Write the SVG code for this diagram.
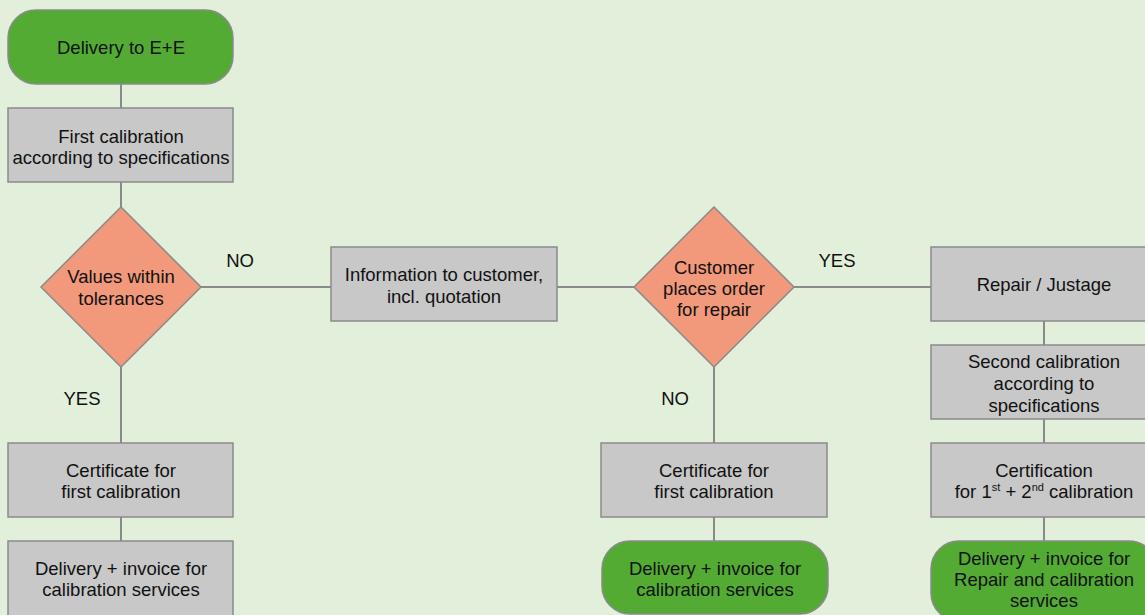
<svg xmlns="http://www.w3.org/2000/svg" width="1145" height="615" viewBox="0 0 1145 615">
<style>
.bg{fill:#e2efda}
.box{fill:#c8c8c8;stroke:#8a8a8a;stroke-width:1.5}
.term{fill:#53ab34;stroke:#8a8a8a;stroke-width:1.5}
.dec{fill:#f2987b;stroke:#8a8a8a;stroke-width:1.5}
.ln{stroke:#8a8a8a;stroke-width:2;fill:none}
text{font-family:"Liberation Sans",Arial,sans-serif;font-size:18.5px;fill:#111;text-anchor:middle}
.sup{font-size:11px}
</style>
<rect class="bg" x="0" y="0" width="1145" height="615"/>
<g id="connectors">
<line class="ln" x1="121" y1="84" x2="121" y2="108"/>
<line class="ln" x1="121" y1="182" x2="121" y2="207"/>
<line class="ln" x1="121" y1="367" x2="121" y2="443"/>
<line class="ln" x1="121" y1="517" x2="121" y2="541"/>
<line class="ln" x1="201" y1="287" x2="331" y2="287"/>
<line class="ln" x1="557" y1="287" x2="634" y2="287"/>
<line class="ln" x1="794" y1="287" x2="931" y2="287"/>
<line class="ln" x1="714" y1="367" x2="714" y2="443"/>
<line class="ln" x1="714" y1="517" x2="714" y2="541"/>
<line class="ln" x1="1044" y1="321" x2="1044" y2="345"/>
<line class="ln" x1="1044" y1="419" x2="1044" y2="443"/>
<line class="ln" x1="1044" y1="517" x2="1044" y2="541"/>
<text x="240" y="267">NO</text>
<text x="82" y="405">YES</text>
<text x="837" y="267">YES</text>
<text x="675" y="405">NO</text>
</g>
<g id="n1"><rect class="term" x="8" y="10" width="225" height="74" rx="28"/><text x="121" y="54">Delivery to E+E</text></g>
<g id="n2"><rect class="box" x="8" y="108" width="225" height="74"/><text x="121" y="143">First calibration</text><text x="121" y="164">according to specifications</text></g>
<g id="d1"><polygon class="dec" points="121,207 201,287 121,367 41,287"/><text x="121" y="283">Values within</text><text x="121" y="305">tolerances</text></g>
<g id="n3"><rect class="box" x="331" y="247" width="226" height="74"/><text x="444" y="281">Information to customer,</text><text x="444" y="303">incl. quotation</text></g>
<g id="d2"><polygon class="dec" points="714,207 794,287 714,367 634,287"/><text x="714" y="274">Customer</text><text x="714" y="295">places order</text><text x="714" y="316">for repair</text></g>
<g id="n4"><rect class="box" x="931" y="247" width="226" height="74"/><text x="1044" y="291">Repair / Justage</text></g>
<g id="n5"><rect class="box" x="931" y="345" width="226" height="74"/><text x="1044" y="368">Second calibration</text><text x="1044" y="390">according to</text><text x="1044" y="412">specifications</text></g>
<g id="n6"><rect class="box" x="931" y="443" width="226" height="74"/><text x="1044" y="477">Certification</text><text x="1044" y="498">for 1<tspan class="sup" dy="-7">st</tspan><tspan dy="7"> + 2</tspan><tspan class="sup" dy="-7">nd</tspan><tspan dy="7"> calibration</tspan></text></g>
<g id="n7"><rect class="term" x="931" y="541" width="226" height="80" rx="28"/><text x="1044" y="565">Delivery + invoice for</text><text x="1044" y="586">Repair and calibration</text><text x="1044" y="607">services</text></g>
<g id="n8"><rect class="box" x="8" y="443" width="225" height="74"/><text x="121" y="477">Certificate for</text><text x="121" y="498">first calibration</text></g>
<g id="n9"><rect class="box" x="8" y="541" width="225" height="80"/><text x="121" y="575">Delivery + invoice for</text><text x="121" y="596">calibration services</text></g>
<g id="n10"><rect class="box" x="601" y="443" width="226" height="74"/><text x="714" y="477">Certificate for</text><text x="714" y="498">first calibration</text></g>
<g id="n11"><rect class="term" x="602" y="541" width="226" height="73" rx="28"/><text x="715" y="575">Delivery + invoice for</text><text x="715" y="596">calibration services</text></g>
</svg>
